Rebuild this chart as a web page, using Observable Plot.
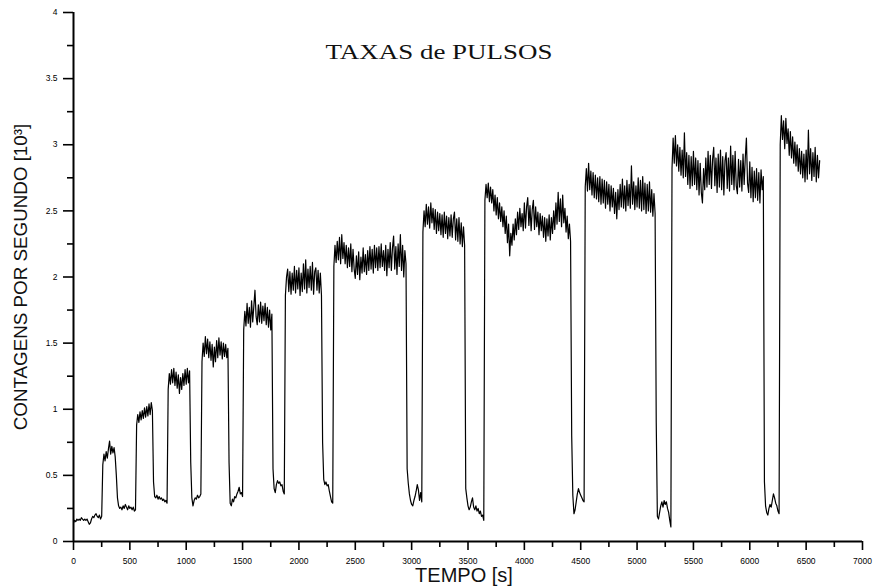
<!DOCTYPE html>
<html>
<head>
<meta charset="utf-8">
<script src="https://cdn.jsdelivr.net/npm/d3@7"></script>
<script src="https://cdn.jsdelivr.net/npm/@observablehq/plot@0.6"></script>
<style>
  html, body { margin: 0; padding: 0; background: #fff; }
</style>
</head>
<body>
<div id="chart"></div>
<script>
// Count rate (thousands of counts per second), sampled every 10 s.
const dt = 10;

// 0 – 990 s
const r0 = [
  0.14, 0.16, 0.15, 0.17, 0.16, 0.17, 0.16, 0.18, 0.17, 0.16,
  0.17, 0.16, 0.17, 0.15, 0.13, 0.14, 0.17, 0.19, 0.18, 0.20,
  0.21, 0.19, 0.18, 0.20, 0.17, 0.19, 0.58, 0.66, 0.61, 0.68,
  0.63, 0.70, 0.76, 0.66, 0.72, 0.67, 0.71, 0.64, 0.50, 0.33,
  0.27, 0.25, 0.26, 0.24, 0.27, 0.25, 0.28, 0.26, 0.24, 0.27,
  0.25, 0.26, 0.24, 0.26, 0.23, 0.24, 0.88, 0.96, 0.90, 0.98,
  0.92, 0.99, 0.93, 1.01, 0.94, 1.02, 0.95, 1.04, 0.96, 1.05,
  0.99, 0.45, 0.34, 0.33, 0.35, 0.32, 0.34, 0.32, 0.33, 0.31,
  0.32, 0.30, 0.31, 0.29, 1.15, 1.27, 1.19, 1.30, 1.20, 1.31,
  1.18, 1.28, 1.16, 1.26, 1.12, 1.24, 1.15, 1.27, 1.18, 1.30
];
// 1000 – 1990 s
const r1 = [
  1.19, 1.31, 1.20, 1.29, 0.60, 0.33, 0.27, 0.31, 0.33, 0.32,
  0.35, 0.33, 0.34, 0.36, 1.36, 1.50, 1.40, 1.55, 1.42, 1.53,
  1.39, 1.51, 1.37, 1.49, 1.32, 1.47, 1.36, 1.52, 1.39, 1.54,
  1.41, 1.51, 1.38, 1.50, 1.40, 1.49, 1.39, 1.46, 0.60, 0.29,
  0.27, 0.32, 0.30, 0.34, 0.33, 0.36, 0.38, 0.41, 0.36, 0.37,
  0.34, 1.60, 1.74, 1.63, 1.80, 1.65, 1.77, 1.62, 1.82, 1.66,
  1.78, 1.90, 1.70, 1.64, 1.79, 1.66, 1.81, 1.65, 1.78, 1.67,
  1.80, 1.64, 1.77, 1.62, 1.75, 1.60, 1.72, 0.55, 0.40, 0.37,
  0.43, 0.46, 0.44, 0.45, 0.42, 0.43, 0.38, 0.36, 1.86, 2.00,
  2.06, 1.89, 2.04, 1.87, 2.03, 1.90, 2.08, 1.88, 2.05, 1.91
];
// 2000 – 2990 s
const r2 = [
  2.07, 1.86, 2.03, 1.89, 2.10, 1.91, 2.13, 1.88, 2.06, 1.92,
  2.08, 1.90, 2.11, 1.87, 2.04, 2.07, 1.90, 2.05, 1.88, 2.03,
  1.86, 0.75, 0.47, 0.43, 0.45, 0.42, 0.43, 0.38, 0.34, 0.30,
  0.29, 2.08, 2.24, 2.11, 2.27, 2.13, 2.30, 2.10, 2.32, 2.14,
  2.26, 2.10, 2.24, 2.07, 2.22, 2.08, 2.25, 2.04, 2.21, 2.06,
  1.99, 2.16, 2.02, 2.19, 1.98, 2.15, 2.03, 2.22, 2.04, 2.17,
  2.02, 2.20, 2.05, 2.23, 2.06, 2.21, 2.03, 2.24, 2.07, 2.22,
  2.05, 2.23, 2.07, 2.25, 2.08, 2.20, 2.05, 2.24, 2.01, 2.21,
  2.07, 2.26, 2.05, 2.22, 2.31, 2.06, 2.23, 2.02, 2.25, 2.08,
  2.32, 2.05, 2.24, 2.00, 2.20, 2.10, 0.55, 0.44, 0.36, 0.31
];
// 3000 – 3990 s
const r3 = [
  0.28, 0.27, 0.31, 0.34, 0.38, 0.43, 0.39, 0.31, 0.37, 0.30,
  2.34, 2.50, 2.38, 2.55, 2.40, 2.53, 2.37, 2.56, 2.41, 2.52,
  2.36, 2.51, 2.33, 2.49, 2.35, 2.48, 2.32, 2.47, 2.30, 2.49,
  2.33, 2.46, 2.29, 2.45, 2.31, 2.47, 2.30, 2.44, 2.49, 2.28,
  2.44, 2.27, 2.45, 2.25, 2.41, 2.23, 2.38, 2.24, 0.40, 0.33,
  0.27, 0.24, 0.26, 0.30, 0.33, 0.26, 0.24, 0.27, 0.23, 0.25,
  0.21, 0.23, 0.19, 0.20, 0.16, 2.58, 2.70, 2.60, 2.71, 2.57,
  2.68, 2.56, 2.66, 2.50, 2.62, 2.47, 2.60, 2.44, 2.56, 2.42,
  2.53, 2.38, 2.50, 2.33, 2.46, 2.26, 2.40, 2.16, 2.33, 2.24,
  2.40, 2.28, 2.44, 2.32, 2.49, 2.36, 2.52, 2.38, 2.48, 2.35
];
// 4000 – 4990 s
const r4 = [
  2.56, 2.37, 2.53, 2.60, 2.39, 2.54, 2.35, 2.51, 2.58, 2.36,
  2.53, 2.38, 2.49, 2.32, 2.48, 2.35, 2.46, 2.30, 2.45, 2.27,
  2.44, 2.31, 2.47, 2.28, 2.45, 2.33, 2.50, 2.36, 2.56, 2.40,
  2.64, 2.42, 2.59, 2.38, 2.62, 2.41, 2.52, 2.34, 2.46, 2.29,
  2.40, 2.27, 0.80, 0.35, 0.21, 0.24, 0.30, 0.36, 0.40, 0.37,
  0.35, 0.33, 0.31, 0.30, 2.68, 2.82, 2.65, 2.86, 2.66, 2.80,
  2.62, 2.79, 2.60, 2.77, 2.59, 2.75, 2.57, 2.76, 2.55, 2.74,
  2.56, 2.73, 2.52, 2.72, 2.55, 2.70, 2.50, 2.69, 2.53, 2.67,
  2.48, 2.64, 2.44, 2.66, 2.51, 2.70, 2.53, 2.74, 2.52, 2.69,
  2.50, 2.73, 2.54, 2.70, 2.52, 2.84, 2.55, 2.72, 2.51, 2.69
];
// 5000 – 5990 s
const r5 = [
  2.53, 2.75, 2.52, 2.73, 2.50, 2.76, 2.51, 2.71, 2.48, 2.70,
  2.50, 2.72, 2.49, 2.66, 2.46, 2.63, 2.48, 0.90, 0.19, 0.17,
  0.22, 0.27, 0.30, 0.26, 0.31, 0.28, 0.30, 0.25, 0.22, 0.16,
  0.11, 2.82, 3.05, 2.86, 3.07, 2.84, 3.00, 2.80, 2.98, 2.77,
  2.96, 2.75, 3.09, 2.76, 2.94, 2.70, 2.92, 2.67, 2.91, 2.69,
  2.95, 2.70, 2.90, 2.66, 2.88, 2.62, 2.86, 2.64, 2.56, 2.82,
  2.66, 2.90, 2.68, 2.95, 2.70, 2.92, 2.67, 2.89, 2.98, 2.69,
  2.90, 2.64, 2.93, 2.68, 2.96, 2.66, 2.91, 2.62, 2.88, 2.94,
  2.67, 2.90, 2.65, 2.99, 2.70, 2.92, 2.66, 2.95, 2.69, 2.63,
  2.89, 2.68, 2.88, 2.65, 2.93, 2.70, 2.90, 3.05, 2.71, 2.64
];
// 6000 – 6620 s
const r6 = [
  2.87, 2.60, 2.83, 2.57, 2.80, 2.60, 2.82, 2.58, 2.79, 2.56,
  2.81, 2.66, 2.76, 0.45, 0.27, 0.22, 0.20, 0.25, 0.28, 0.26,
  0.31, 0.36, 0.33, 0.29, 0.27, 0.23, 0.21, 3.00, 3.22, 3.04,
  3.18, 2.97, 3.20, 3.01, 3.12, 2.92, 3.10, 2.90, 3.06, 2.86,
  3.02, 2.84, 3.00, 2.80, 2.97, 2.78, 2.95, 2.75, 2.93, 2.72,
  2.96, 2.74, 3.11, 2.78, 2.97, 2.73, 2.94, 2.76, 2.98, 2.72,
  2.92, 2.75, 2.88
];

// Axis ticks and labels
const xTicks = [0, 500, 1000, 1500, 2000, 2500, 3000, 3500, 4000, 4500, 5000, 5500, 6000, 6500, 7000];
const xMinorTicks = [250, 750, 1250, 1750, 2250, 2750, 3250, 3750, 4250, 4750, 5250, 5750, 6250, 6750];
const yTicks = [0, 0.5, 1, 1.5, 2, 2.5, 3, 3.5, 4];
const yMinorTicks = [0.25, 0.75, 1.25, 1.75, 2.25, 2.75, 3.25, 3.75];

const title = "TAXAS de PULSOS";
const xLabel = "TEMPO [s]";
const yLabel = "CONTAGENS POR SEGUNDO [10³]";

const rate = [...r0, ...r1, ...r2, ...r3, ...r4, ...r5, ...r6]
  .map((v, i) => ({t: i * dt, v}));

const sans = "'Liberation Sans', Arial, Helvetica, sans-serif";
const serif = "'Liberation Serif', 'Times New Roman', Times, serif";

const chart = Plot.plot({
  width: 873,
  height: 588,
  marginLeft: 73,
  marginRight: 11,
  marginTop: 12,
  marginBottom: 47,
  style: {fontFamily: sans, background: "#fff", color: "#000"},
  x: {domain: [0, 7000]},
  y: {domain: [0, 4]},
  marks: [
    // major and minor ticks
    Plot.axisX(xTicks, {anchor: "bottom", tickSize: 9, tickPadding: 7, strokeWidth: 1.6,
      fontSize: 8.5, tickFormat: (d) => String(d), label: null}),
    Plot.axisX(xMinorTicks, {anchor: "bottom", tickSize: 6, strokeWidth: 1.6,
      tickFormat: () => "", label: null}),
    Plot.axisY(yTicks, {anchor: "left", tickSize: 10, tickPadding: 6, strokeWidth: 1.6,
      fontSize: 8.5, tickFormat: (d) => String(d), label: null}),
    Plot.axisY(yMinorTicks, {anchor: "left", tickSize: 6, strokeWidth: 1.6,
      tickFormat: () => "", label: null}),
    // axis lines
    Plot.ruleY([0], {stroke: "#000", strokeWidth: 2}),
    Plot.ruleX([0], {stroke: "#000", strokeWidth: 2}),
    // the count-rate trace
    Plot.line(rate, {x: "t", y: "v", stroke: "#000", strokeWidth: 1.2}),
    // title and axis labels
    Plot.text([title], {frameAnchor: "top", dx: -29, dy: 40, lineAnchor: "middle",
      fontFamily: serif, fontSize: 21, fill: "#111"}),
    Plot.text([xLabel], {frameAnchor: "bottom", dx: -4, dy: 34.5, lineAnchor: "middle",
      fontSize: 20, fill: "#111"}),
    Plot.text([yLabel], {frameAnchor: "left", dx: -53, rotate: -90, lineAnchor: "middle",
      textAnchor: "middle", fontSize: 18.8, fill: "#111"})
  ]
});

// widen the serif title to its set width
d3.select(chart).selectAll("text")
  .filter(function () { return this.textContent === title; })
  .attr("textLength", 227)
  .attr("lengthAdjust", "spacingAndGlyphs");

document.getElementById("chart").append(chart);
</script>
</body>
</html>
